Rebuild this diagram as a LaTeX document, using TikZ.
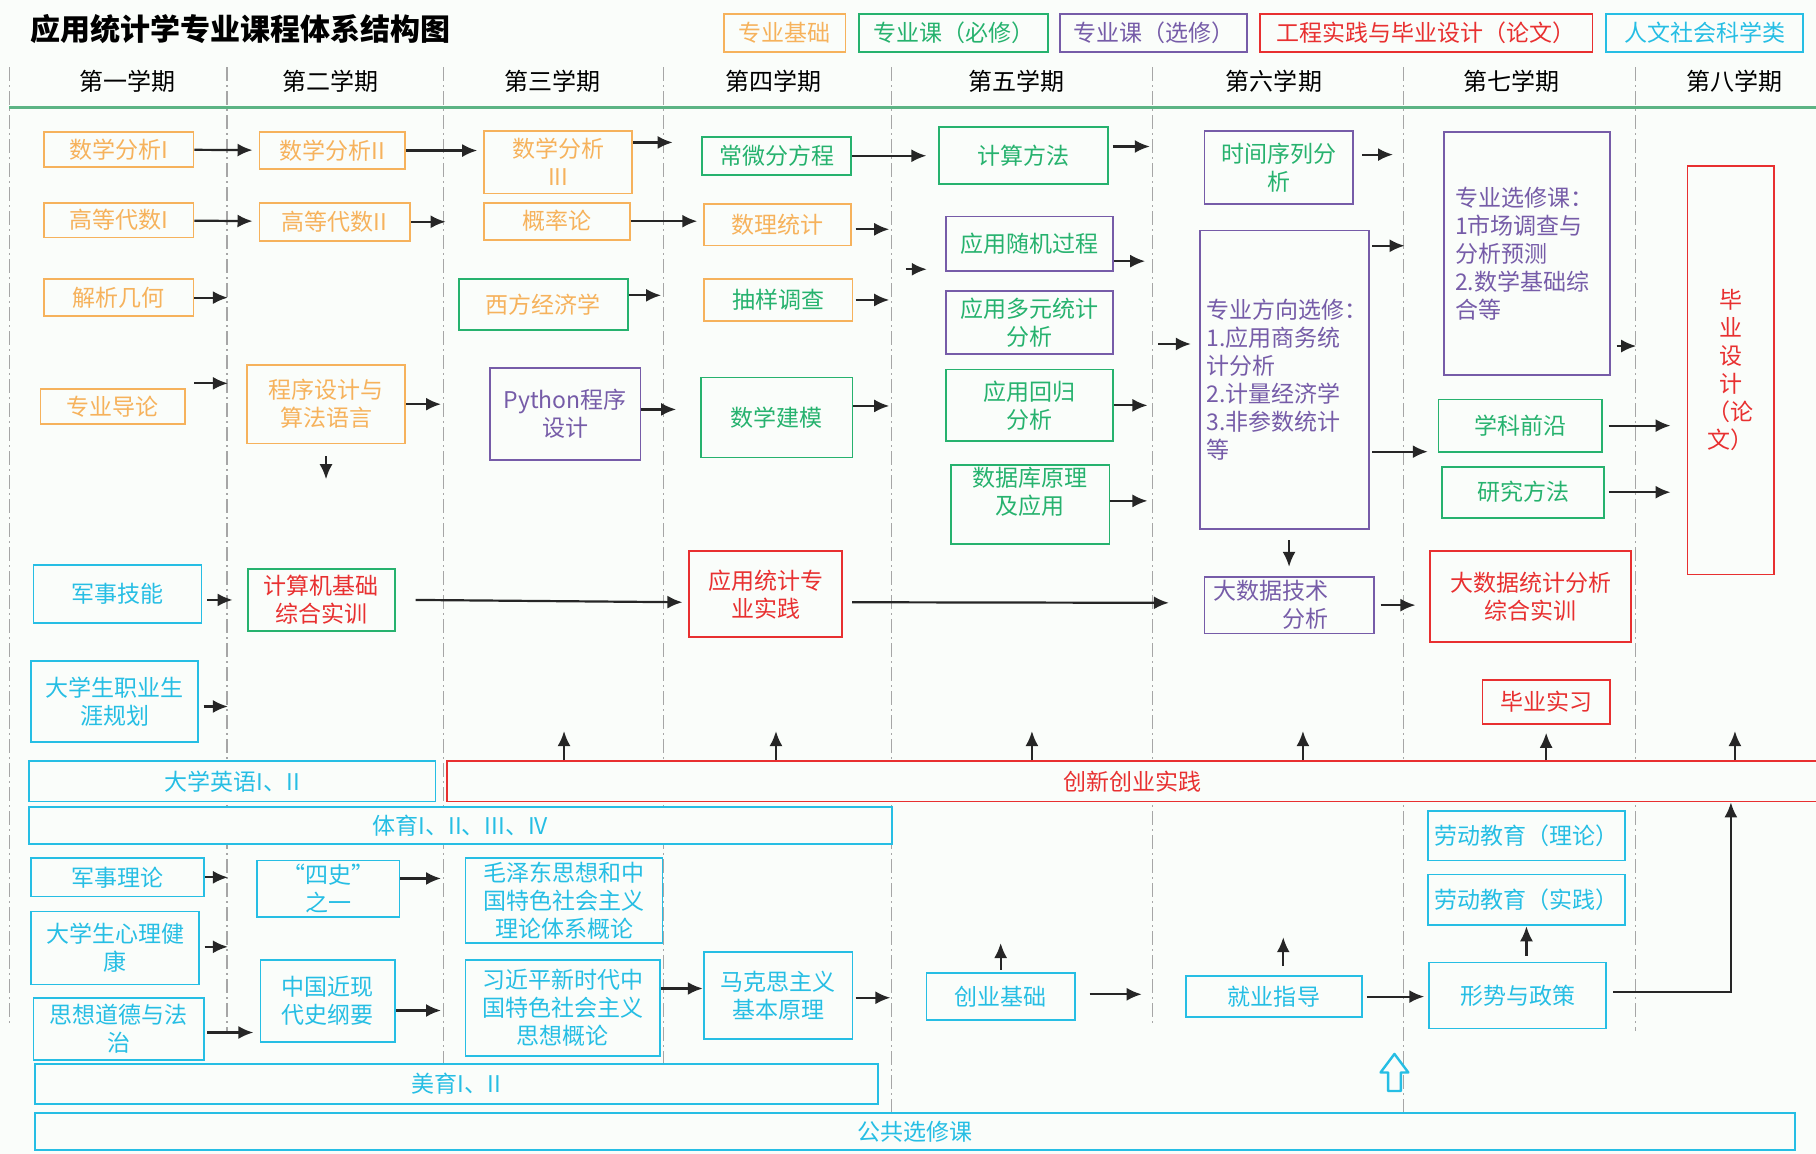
\documentclass[tikz,border=0pt]{standalone}
\usepackage{fontspec}
\setmainfont{Noto Sans CJK SC}
\usetikzlibrary{arrows.meta}

\definecolor{jccol}{RGB}{246,178,92}
\definecolor{bxcol}{RGB}{38,178,110}
\definecolor{xxcol}{RGB}{118,92,168}
\definecolor{sjcol}{RGB}{232,48,48}
\definecolor{rwcol}{RGB}{38,190,228}
\definecolor{bgcol}{RGB}{250,253,250}
\definecolor{linecol}{RGB}{92,180,132}

\tikzset{
  course/.style={draw, fill=bgcol, line width=0.9pt, align=center, inner sep=1pt,
    font=\fontsize{11.5}{14}\selectfont},
  sz/.style 2 args={minimum width=#1*0.579pt, minimum height=#2*0.579pt},
  jc/.style={course, draw=jccol, text=jccol},
  bx/.style={course, draw=bxcol, text=bxcol},
  xx/.style={course, draw=xxcol, text=xxcol},
  sj/.style={course, draw=sjcol, text=sjcol},
  rw/.style={course, draw=rwcol, text=rwcol},
  term/.style={font=\fontsize{12}{14}\selectfont},
  arr/.style={-{Latex[length=7.5pt,width=6.5pt]}, line width=1.1pt, black!85},
  gap/.style={shorten >=3pt},
  sep/.style={gray!70, line width=0.6pt, dash pattern=on 7pt off 2pt on 1pt off 2pt}
}

\begin{document}
\begin{tikzpicture}[x=0.579pt, y=-0.579pt]
\useasboundingbox (0,0) rectangle (1568,996);
\fill[bgcol] (0,0) rectangle (1568,996);

% semester columns
\foreach \xx/\yy in {8/885,196/890,383/918,573/918,770/960,995/885,1212/960,1412/890}
  \draw[sep] (\xx,58) -- (\xx,\yy);
\draw[linecol, line width=1.5pt] (8,93) -- (1568,93);
\foreach \xx/\nm/\lbl in {110/h1/第一学期, 285/h2/第二学期, 477/h3/第三学期, 668/h4/第四学期,
    878/h5/第五学期, 1100/h6/第六学期, 1305/h7/第七学期, 1498/h8/第八学期}
  \node[term] (\nm) at (\xx,70) {\lbl};

% title and legend
\node[font=\fontsize{15}{17}\selectfont\bfseries, anchor=west] (title) at (20,25) {应用统计学专业课程体系结构图};
\node[jc, sz={105}{33}] (lg1) at (677.5,28.5) {专业基础};
\node[bx, sz={163}{33}] (lg2) at (823.5,28.5) {专业课（必修）};
\node[xx, sz={162}{33}] (lg3) at (996,28.5) {专业课（选修）};
\node[sj, sz={287}{33}] (lg4) at (1231.5,28.5) {工程实践与毕业设计（论文）};
\node[rw, sz={170}{33}] (lg5) at (1472,28.5) {人文社会科学类};

% first term
\node[jc, sz={129}{30}] (sxfx1) at (102.5,129) {数学分析I};
\node[jc, sz={129}{30}] (gdds1) at (102.5,190) {高等代数I};
\node[jc, sz={129}{32}] (jxjh) at (102.5,257) {解析几何};
\node[jc, sz={125}{30}] (zydl) at (97.5,351) {专业导论};
\node[rw, sz={145}{50}] (jsjn) at (101.5,513) {军事技能};
\node[rw, sz={144}{70}] (zysy) at (99,606) {大学生职业生\\涯规划};
\node[rw, sz={351}{35}] (dxyy) at (200.5,674.5) {大学英语I、II};
\node[rw, sz={745}{32}] (ty) at (397.5,713) {体育I、II、III、IV};
\node[rw, sz={149}{33}] (jsll) at (101.5,757.5) {军事理论};
\node[rw, sz={145}{63}] (xljk) at (99.5,818.5) {大学生心理健\\康};
\node[rw, sz={147}{53}] (sxdd) at (102.5,888.5) {思想道德与法\\治};
\node[rw, sz={728}{34}] (my) at (394,936) {美育I、II};
\node[rw, sz={1520}{32}] (ggxx) at (790,977) {公共选修课};

% second term
\node[jc, sz={126}{32}] (sxfx2) at (287,130) {数学分析II};
\node[jc, sz={130}{33}] (gdds2) at (289,191.5) {高等代数II};
\node[jc, sz={137}{68}] (cxsj) at (281.5,349) {程序设计与\\算法语言};
\node[bx, text=sjcol, sz={127}{54}] (jsjjc) at (277.5,518) {计算机基础\\综合实训};
\node[rw, sz={123}{49}] (sishi) at (283.5,767.5) {“四史”\\之一};
\node[rw, sz={116}{71}] (zgjxd) at (283,864.5) {中国近现\\代史纲要};

% third term
\node[jc, sz={128}{54}] (sxfx3) at (482,140) {数学分析\\III};
\node[jc, sz={126}{32}] (gll) at (481,191) {概率论};
\node[bx, text=jccol, sz={146}{44}] (xfjj) at (469,263) {西方经济学};
\node[xx, sz={130}{79}] (python) at (488,357.5) {Python程序\\设计};
\node[rw, sz={170}{73}] (mzd) at (487,777.5) {毛泽东思想和中\\国特色社会主义\\理论体系概论};
\node[rw, sz={168}{83}] (xjp) at (486,870.5) {习近平新时代中\\国特色社会主义\\思想概论};

% fourth term
\node[bx, sz={129}{33}] (cwf) at (670.5,134.5) {常微分方程};
\node[jc, sz={127}{36}] (sltj) at (671.5,194) {数理统计};
\node[jc, text=bxcol, sz={128}{36}] (cydc) at (672,259) {抽样调查};
\node[bx, sz={131}{69}] (sxjm) at (670.5,360.5) {数学建模};
\node[sj, sz={132}{74}] (yytj) at (661,513) {应用统计专\\业实践};
\node[rw, sz={128}{75}] (mks) at (672,859.5) {马克思主义\\基本原理};

% fifth term
\node[bx, sz={146}{49}] (jsff) at (884,134.5) {计算方法};
\node[xx, text=bxcol, sz={144}{47}] (sjgc) at (889,210.5) {应用随机过程};
\node[xx, text=bxcol, sz={144}{55}] (dytj) at (889,278.5) {应用多元统计\\分析};
\node[bx, sz={144}{62}] (hgfx) at (889,350) {应用回归\\分析};
\node[bx, sz={137}{65}] (sjk) at (889.5,435.5) {数据库原理\\及应用\\\mbox{}};
\node[rw, sz={128}{41}] (cyjc) at (864,860.5) {创业基础};

% sixth term
\node[xx, text=bxcol, sz={128}{63}] (sjxl) at (1104,144.5) {时间序列分\\析};
\node[xx, sz={146}{258}, align=left, text width=78pt] (zyfx) at (1109,328)
  {专业方向选修：\\1.应用商务统\\计分析\\2.计量经济学\\3.非参数统计\\等};
\node[xx, sz={146}{49}, align=left, text width=76pt] (dsjjs) at (1113,522.5) {大数据技术\\\hspace*{3em}分析};
\node[rw, sz={152}{35}] (jyzd) at (1100,860.5) {就业指导};

% seventh term
\node[xx, sz={143}{210}, align=left, text width=72pt] (zyxx) at (1318.5,219)
  {专业选修课：\\1市场调查与\\分析预测\\2.数学基础综\\合等};
\node[bx, sz={141}{45}] (xkqy) at (1312.5,367.5) {学科前沿};
\node[bx, sz={140}{44}] (yjff) at (1315,425) {研究方法};
\node[sj, sz={173}{78}] (dsjtj) at (1321.5,515) {大数据统计分析\\综合实训};
\node[sj, sz={110}{38}] (bysx) at (1335,606) {毕业实习};
\node[rw, sz={170}{43}] (ldjy1) at (1318,721.5) {劳动教育（理论）};
\node[rw, sz={170}{44}] (ldjy2) at (1318,777) {劳动教育（实践）};
\node[rw, sz={153}{57}] (xszc) at (1310.5,859.5) {形势与政策};

% eighth term
\node[sj, sz={75}{353}] (bysj) at (1494.5,319.5) {毕\\业\\设\\计\\（论\\文）};
\node[sj, sz={1200}{35}] (cxcy) at (986,674.5) {\hspace*{-9pt}创新创业实践};

% arrows between courses
\draw[arr, gap] (sxfx1) -- (sxfx2);
\draw[arr, gap] (gdds1) -- (gdds2);
\draw[arr, gap] (sxfx2.east) -- (sxfx2.east -| sxfx3.west);
\draw[arr, gap] (gll.east) -- (gll.east -| sltj.west);
\draw[arr, shorten >=6pt] (cwf.east) -- (cwf.east -| jsff.west);
\draw[arr] ([shift={(17,0)}]jsjjc.east) -- ([shift={(-5,7)}]yytj.west);
\draw[arr] ([shift={(8,7)}]yytj.east) -- ([shift={(-30,-2)}]dsjjs.west);
\draw[arr, shorten <=3pt, shorten >=7pt] (dsjjs.east) -- (dsjjs.east -| dsjtj.west);
\draw[arr, shorten <=3pt, shorten >=8pt] (xkqy.east) -- (xkqy.east -| bysj.west);
\draw[arr, shorten <=2pt, shorten >=8pt] (yjff.east) -- (yjff.east -| bysj.west);
\draw[arr, shorten <=5pt, shorten >=4.5pt] (dsjjs.north |- zyfx.south) -- (dsjjs.north);
\draw[arr, shorten >=4pt] (cxcy.north -| bysx.south) -- (bysx.south);
\draw[arr, shorten <=2pt, shorten >=2pt] (jyzd.east) -- (jyzd.east -| xszc.west);
\draw[arr, shorten <=3pt] (xszc.north -| ldjy2.south) -- (ldjy2.south);
\draw[arr] ([shift={(5,-3)}]xszc.east) -| (cxcy.south -| bysj.south);
\draw[arr] ([shift={(0,-17)}]xjp.east) -- ++(36,0);

% short arrows to next term
\draw[arr] ([shift={(0,-17)}]sxfx3.east) -- ++(34,0);
\draw[arr] (gdds2.east) -- ++(30,0);
\draw[arr] (jxjh.east) -- ++(29,0);
\draw[arr] ([shift={(7,-20)}]zydl.east) -- ++(29,0);
\draw[arr] (cxsj.east) -- ++(30,0);
\draw[arr] ([shift={(0,10)}]cxsj.south) -- ++(0,20);
\draw[arr] ([shift={(0,-8)}]xfjj.east) -- ++(28,0);
\draw[arr] ([shift={(0,-4)}]python.east) -- ++(30,0);
\draw[arr] ([shift={(3,4)}]sltj.east) -- ++(29,0);
\draw[arr] ([shift={(2,0)}]cydc.east) -- ++(29,0);
\draw[arr] ([shift={(0,-10)}]sxjm.east) -- ++(31,0);
\draw[arr] ([shift={(3,-8)}]jsff.east) -- ++(32,0);
\draw[arr] ([shift={(-34,22)}]sjgc.west) -- ++(18,0);
\draw[arr] ([shift={(0,15)}]sjgc.east) -- ++(27,0);
\draw[arr] (hgfx.east) -- ++(29,0);
\draw[arr] ([shift={(0,-3)}]sjk.east) -- ++(32,0);
\draw[arr] ([shift={(-35,-31)}]zyfx.west) -- ++(28,0);
\draw[arr] ([shift={(7,-11)}]sjxl.east) -- ++(27,0);
\draw[arr] ([shift={(2,14)}]zyfx.north east) -- ++(28,0);
\draw[arr] ([shift={(2,62)}]zyfx.east) -- ++(48,0);
\draw[arr] ([shift={(5,-26)}]zyxx.south east) -- ++(17,0);
\draw[arr] ([shift={(4,5)}]jsjn.east) -- ++(22,0);
\draw[arr] ([shift={(4,4)}]zysy.east) -- ++(21,0);
\draw[arr] (jsll.east) -- ++(20,0);
\draw[arr] ([shift={(4,-1)}]xljk.east) -- ++(20,0);
\draw[arr] ([shift={(2,3)}]sxdd.east) -- ++(40,0);
\draw[arr] ([shift={(0,-9)}]sishi.east) -- ++(35,0);
\draw[arr] ([shift={(0,8)}]zgjxd.east) -- ++(39,0);
\draw[arr] ([shift={(2,2)}]mks.east) -- ++(30,0);
\draw[arr] ([shift={(0,-2)}]cyjc.north) -- ++(0,-23);
\draw[arr] ([shift={(12,-2)}]cyjc.east) -- ++(45,0);
\draw[arr] ([shift={(8,-8)}]jyzd.north) -- ++(0,-25);
\foreach \xx in {487,670,891,1125,1498}
  \draw[arr] (cxcy.north -| \xx,0) -- ++(0,-25);

% hollow arrow above the electives
\draw[rwcol, line width=1.2pt, fill=bgcol, line join=round]
  (1204,910) -- (1216,926) -- (1209.5,926) -- (1209.5,942) -- (1198.5,942)
  -- (1198.5,926) -- (1192,926) -- cycle;
\end{tikzpicture}
\end{document}
